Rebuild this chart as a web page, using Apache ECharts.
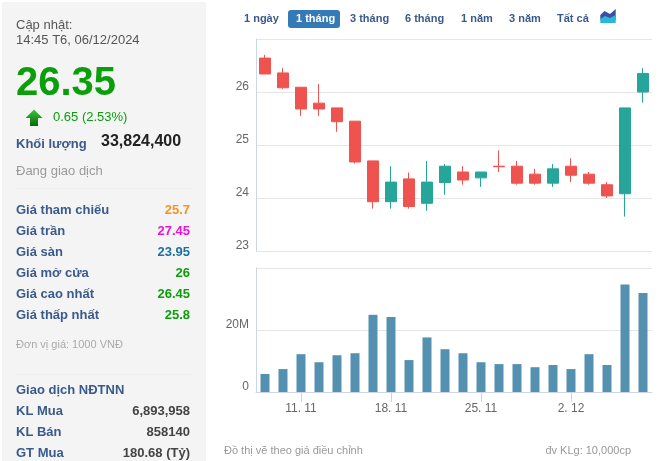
<!DOCTYPE html>
<html><head><meta charset="utf-8">
<style>html,body{margin:0;padding:0;background:#fff}#c{width:662px;height:461px}</style>
<script src="https://cdn.jsdelivr.net/npm/echarts@6/dist/echarts.min.js"></script>
</head><body><div id="c"></div>
<script>
const categories=['7. 11','8. 11','11. 11','12. 11','13. 11','14. 11','15. 11','18. 11','19. 11','20. 11','21. 11','22. 11','25. 11','26. 11','27. 11','28. 11','29. 11','2. 12','3. 12','4. 12','5. 12','6. 12'];
const opens =[26.64,26.36,26.09,25.79,25.70,25.45,24.70,23.93,24.36,23.90,24.29,24.49,24.38,24.60,24.60,24.45,24.28,24.60,24.45,24.25,24.08,26.00];
const closes=[26.34,26.08,25.68,25.68,25.44,24.68,23.93,24.30,23.84,24.30,24.60,24.34,24.49,24.59,24.28,24.28,24.55,24.43,24.28,24.04,25.70,26.35];
const lows  =[26.34,26.06,25.55,25.55,25.25,24.65,23.80,23.80,23.80,23.76,24.06,24.25,24.21,24.49,24.25,24.25,24.21,24.30,24.25,24.00,23.65,25.80];
const highs =[26.70,26.45,26.09,26.15,25.70,25.45,24.70,24.60,24.48,24.70,24.64,24.60,24.49,24.90,24.70,24.55,24.64,24.75,24.49,24.30,25.70,26.45];
const volumes=[5800000,7400000,12200000,9600000,11850000,12500000,24900000,24200000,10300000,17600000,13800000,12500000,9600000,9000000,9000000,8000000,8700000,7400000,12200000,8700000,34700000,31900000];
const priceTicks=[23,24,25,26,27];
const dateTickIndexes=[2,7,12,17];
const ranges=['1 ngày','1 tháng','3 tháng','6 tháng','1 năm','3 năm','Tất cả'];
const statLabels=['Giá tham chiếu','Giá trần','Giá sàn','Giá mở cửa','Giá cao nhất','Giá thấp nhất'];
const statValues=['25.7','27.45','23.95','26','26.45','25.8'];
const foreignLabels=['KL Mua','KL Bán','GT Mua'];
const foreignValues=['6,893,958','858140','180.68 (Tỷ)'];

const FF='"Liberation Sans",Arial,sans-serif';
const NAVY='#3a5a8c', RED='#ef5350', TEAL='#26a69a', GREEN='#0a9f0a';
const statColors=['#f7941d','#ee11dd','#1f6f9f',GREEN,GREEN,GREEN];
const rangeX=[244,296,350,405,461,509,557];
function T(text,x,y,font,fill,align){return {type:'text',silent:true,style:{text,x,y:y+1,font:font+' '+FF,fill,align:align||'left',verticalAlign:'middle'}};}
const g=[];
g.push({type:'rect',silent:true,z:-1,shape:{x:2,y:2,width:204,height:459},style:{fill:'#f4f4f5'}});
g.push(T('Cập nhật:',16,24,'13px','#555'));
g.push(T('14:45 T6, 06/12/2024',16,39,'13px','#555'));
g.push(T('26.35',16,83,'bold 40px',GREEN));
g.push({type:'polygon',silent:true,shape:{points:[[34,109.5],[42.5,118],[38,118],[38,126],[30,126],[30,118],[25.5,118]]},
  style:{fill:new echarts.graphic.LinearGradient(0,0,0,1,[{offset:0,color:'#3fc63f'},{offset:1,color:'#056b05'}])}});
g.push(T('0.65 (2.53%)',53,116,'13px',GREEN));
g.push(T('Khối lượng',16,143,'bold 13px',NAVY));
g.push(T('33,824,400',101,141,'bold 16px','#222'));
g.push(T('Đang giao dịch',16,170,'13px','#999'));
g.push({type:'line',silent:true,shape:{x1:16,y1:188.5,x2:192,y2:188.5},style:{stroke:'#eeeeee',lineWidth:1}});
statLabels.forEach((s,i)=>{const y=209.5+21*i;g.push(T(s,16,y,'bold 13px',NAVY));g.push(T(statValues[i],190,y,'bold 13px',statColors[i],'right'));});
g.push(T('Đơn vị giá: 1000 VNĐ',16,344,'11px','#aaa'));
g.push({type:'line',silent:true,shape:{x1:16,y1:374.5,x2:192,y2:374.5},style:{stroke:'#eeeeee',lineWidth:1}});
g.push(T('Giao dịch NĐTNN',16,389,'bold 13px',NAVY));
foreignLabels.forEach((s,i)=>{const y=410+21*i;g.push(T(s,16,y,'bold 13px',NAVY));g.push(T(foreignValues[i],190,y,'bold 13px','#444','right'));});
g.push({type:'rect',silent:true,shape:{x:288,y:10,width:52,height:18,r:3},style:{fill:'#337ab7'}});
ranges.forEach((s,i)=>g.push(T(s,rangeX[i],17.5,'bold 11px',i===1?'#fff':NAVY)));
g.push({type:'polygon',silent:true,shape:{points:[[600.3,15],[604.5,11],[610,14],[615.7,9],[615.7,20],[600.3,20]]},style:{fill:'#3a4fa5'}});
g.push({type:'polygon',silent:true,shape:{points:[[600.3,19],[605,16],[610,18],[615.7,15],[615.7,23],[600.3,23]]},style:{fill:'#2bb8d8'}});
g.push(T('Đồ thị vẽ theo giá điều chỉnh',224,450,'11px','#999'));
g.push(T('đv KLg: 10,000cp',631,450,'11px','#999','right'));

const chart=echarts.init(document.getElementById('c'),null,{renderer:'canvas'});
chart.setOption({
  animation:false,
  backgroundColor:'#fff',
  textStyle:{fontFamily:FF},
  grid:[{left:256,top:39,width:396,height:212},{left:256,top:268,width:396,height:124}],
  xAxis:[
    {type:'category',gridIndex:0,data:categories,axisLine:{show:false},axisTick:{show:false},axisLabel:{show:false},splitLine:{show:false}},
    {type:'category',gridIndex:1,data:categories,
      axisLine:{lineStyle:{color:'#ccd6eb'}},
      axisTick:{show:true,alignWithLabel:true,length:10,customValues:dateTickIndexes,lineStyle:{color:'#ccd6eb'}},
      axisLabel:{customValues:dateTickIndexes,color:'#666',fontSize:12,margin:9,fontFamily:FF,lineHeight:16},splitLine:{show:false}}
  ],
  yAxis:[
    {type:'value',gridIndex:0,min:priceTicks[0],max:priceTicks[priceTicks.length-1],interval:1,
      axisLine:{show:true,lineStyle:{color:'#ccd6eb'}},axisTick:{show:false},
      axisLabel:{color:'#666',fontSize:12,margin:7,verticalAlign:'bottom',fontFamily:FF,lineHeight:10,formatter:(v)=>v===27?'':String(v)},
      splitLine:{lineStyle:{color:'#e6e6e6'}}},
    {type:'value',gridIndex:1,min:0,max:40000000,interval:20000000,
      axisLine:{show:true,lineStyle:{color:'#ccd6eb'}},axisTick:{show:false},
      axisLabel:{color:'#666',fontSize:12,margin:7,verticalAlign:'bottom',fontFamily:FF,lineHeight:10,formatter:(v)=>v===0?'0':(v===20000000?(v/1e6)+'M':'')},
      splitLine:{lineStyle:{color:'#e6e6e6'}}}
  ],
  series:[
    {type:'candlestick',xAxisIndex:0,yAxisIndex:0,barWidth:11,
      data:categories.map((_,i)=>[opens[i],closes[i],lows[i],highs[i]]),
      itemStyle:{color:TEAL,borderColor:TEAL,color0:RED,borderColor0:RED,borderWidth:1}},
    {type:'bar',xAxisIndex:1,yAxisIndex:1,barWidth:9,data:volumes,itemStyle:{color:'#5490b0'}}
  ],
  graphic:{elements:g}
});
</script></body></html>
